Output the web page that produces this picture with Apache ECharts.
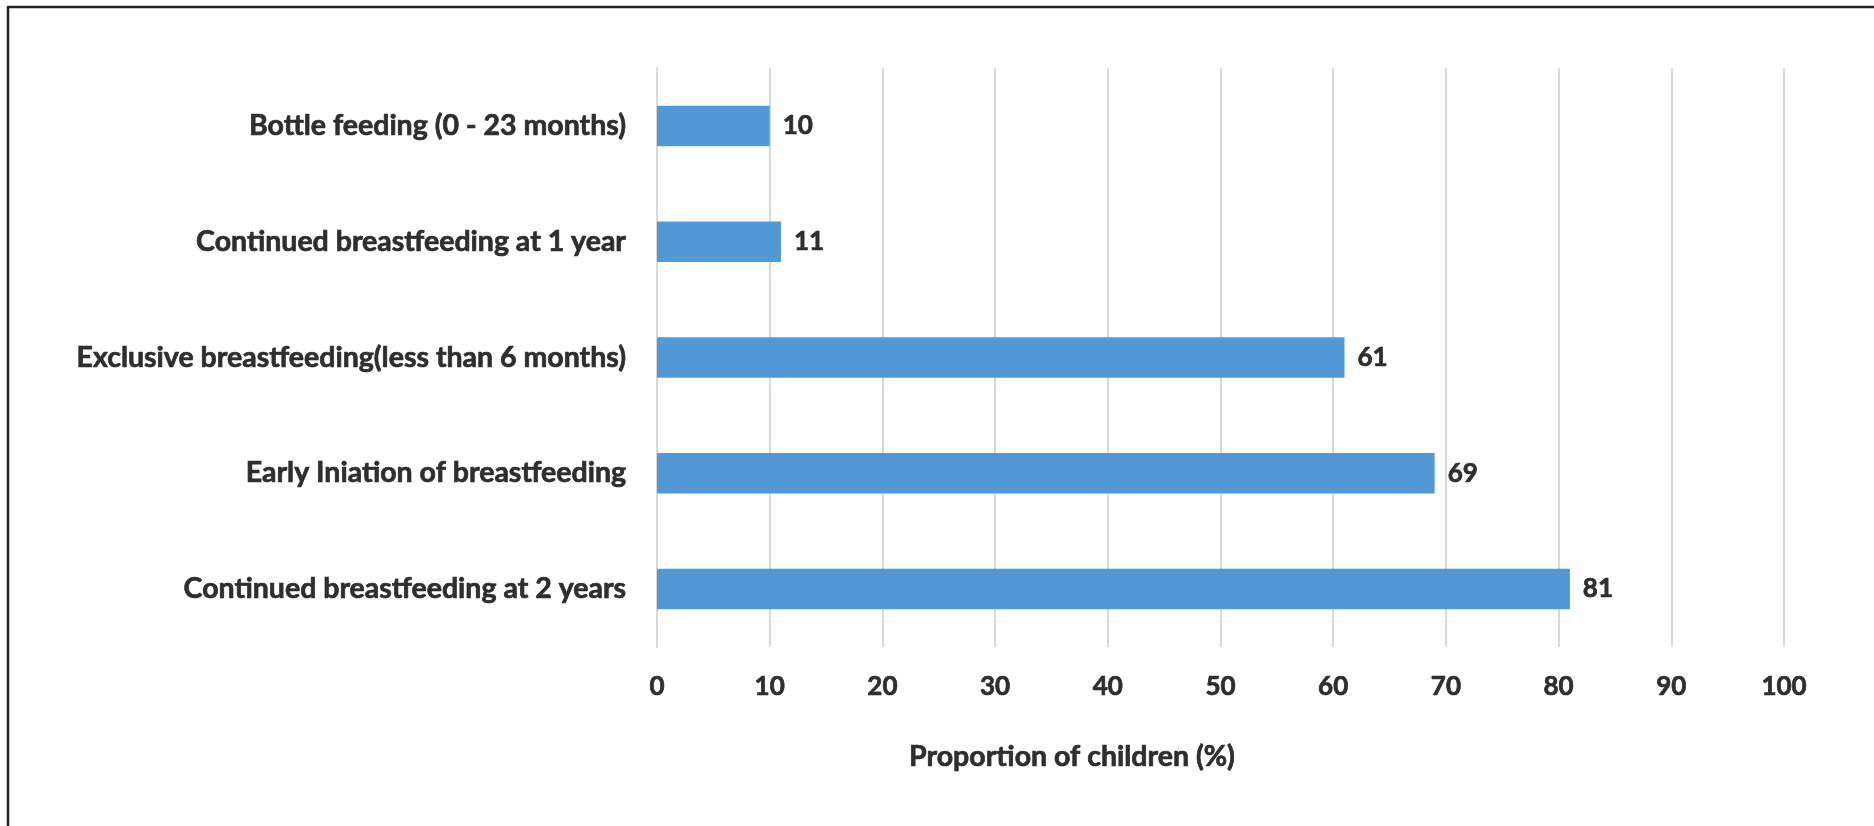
<!DOCTYPE html>
<html>
<head>
<meta charset="utf-8">
<script src="https://cdn.jsdelivr.net/npm/echarts@6/dist/echarts.min.js"></script>
<style>
  html, body { margin: 0; padding: 0; background: #fff; }
  #chart { width: 1874px; height: 826px; }
</style>
</head>
<body>
<div id="chart"></div>
<script>
// Breastfeeding indicators, share of children (%)
const categories = [
  'Continued breastfeeding at 2 years',
  'Early Iniation of breastfeeding',
  'Exclusive breastfeeding(less than 6 months)',
  'Continued breastfeeding at 1 year',
  'Bottle feeding (0 - 23 months)'
];
const values = [81, 69, 61, 11, 10];
const xTicks = { min: 0, max: 100, interval: 10 };
const axisTitle = 'Proportion of children (%)';

const FONT = 'Lato';
const TEXT = '#2e2e2e';
const WORD_SIZE = 28.5;
const NUM_SIZE = 26;
// a hairline outline in the text colour gives the labels a heavier weight
const heavy = { textBorderColor: TEXT, textBorderWidth: 0.7 };

const chart = echarts.init(document.getElementById('chart'), null, { renderer: 'canvas' });
chart.setOption({
  animation: false,
  backgroundColor: '#ffffff',
  grid: { left: 657, right: 90, top: 68, bottom: 179, containLabel: false },
  xAxis: {
    type: 'value',
    min: xTicks.min,
    max: xTicks.max,
    interval: xTicks.interval,
    axisLine: { show: false },
    axisTick: { show: false },
    splitLine: { show: true, lineStyle: { color: '#d9d9d9', width: 2 } },
    axisLabel: Object.assign({ color: TEXT, fontFamily: FONT, fontWeight: 'bold', fontSize: NUM_SIZE, margin: 27 }, heavy)
  },
  yAxis: {
    type: 'category',
    data: categories,
    axisLine: { show: true, lineStyle: { color: '#d9d9d9', width: 2 } },
    axisTick: { show: false },
    axisLabel: Object.assign({ color: TEXT, fontFamily: FONT, fontWeight: 'bold', fontSize: WORD_SIZE, margin: 31 }, heavy)
  },
  series: [{
    type: 'bar',
    data: values,
    barCategoryGap: '65%',
    itemStyle: { color: '#5198d4' },
    label: Object.assign({
      show: true,
      position: 'right',
      distance: 13,
      color: TEXT,
      fontFamily: FONT,
      fontWeight: 'bold',
      fontSize: NUM_SIZE
    }, heavy)
  }],
  graphic: [
    {
      type: 'line',
      shape: { x1: 8, y1: 7, x2: 1874, y2: 7 },
      style: { stroke: '#222222', lineWidth: 2.5 }
    },
    {
      type: 'line',
      shape: { x1: 8, y1: 6, x2: 8, y2: 826 },
      style: { stroke: '#222222', lineWidth: 2.5 }
    },
    {
      type: 'text',
      x: 1072,
      y: 757,
      style: {
        text: axisTitle,
        fill: TEXT,
        stroke: TEXT,
        lineWidth: 0.7,
        font: 'bold ' + WORD_SIZE + 'px Lato',
        textAlign: 'center',
        textVerticalAlign: 'middle'
      }
    }
  ]
});
</script>
</body>
</html>
